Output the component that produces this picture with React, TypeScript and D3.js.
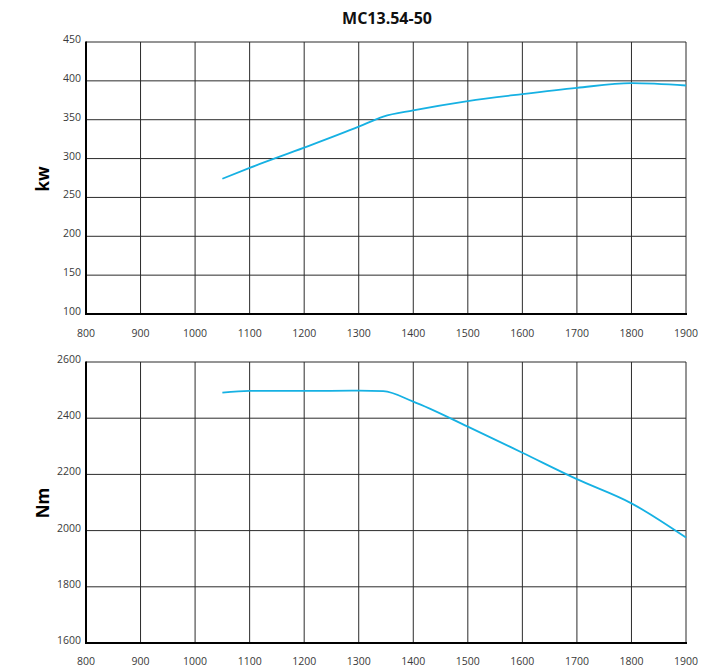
import React from "react";
import * as d3 from "d3";

const title = "MC13.54-50";
const rpmTicks = [800, 900, 1000, 1100, 1200, 1300, 1400, 1500, 1600, 1700, 1800, 1900];
const kwTicks = [100, 150, 200, 250, 300, 350, 400, 450];
const nmTicks = [1600, 1800, 2000, 2200, 2400, 2600];

const kwRpm = [1050, 1100, 1200, 1300, 1345, 1400, 1500, 1600, 1700, 1800, 1900];
const kwValues = [274, 288, 314, 341, 354, 362, 374, 383, 391, 397, 394];

const nmRpm = [1050, 1100, 1200, 1300, 1345, 1400, 1500, 1600, 1700, 1800, 1900];
const nmValues = [2491, 2497, 2497, 2498, 2496, 2459, 2370, 2277, 2183, 2097, 1975];

const LINE = "#16b1e3";
const GRID = "#2b2b2b";
const FONT = "'Open Sans', 'DejaVu Sans', sans-serif";

function Panel({ top, bottom, yDomain, yTicks, xs, ys, label, labelY, xLabelY }: any) {
  const x = d3.scaleLinear().domain([800, 1900]).range([86, 686]);
  const y = d3.scaleLinear().domain(yDomain).range([bottom, top]);
  const line = d3
    .line<number>()
    .x((_, i) => x(xs[i]))
    .y((v) => y(v))
    .curve(d3.curveMonotoneX);
  return (
    <g>
      {rpmTicks.map((t) => (
        <line key={"v" + t} x1={x(t)} x2={x(t)} y1={top} y2={bottom} stroke={GRID} strokeWidth={1} />
      ))}
      {yTicks.map((t: number) => (
        <line key={"h" + t} x1={86} x2={686} y1={y(t)} y2={y(t)} stroke={GRID} strokeWidth={1} />
      ))}
      <line x1={86} x2={86} y1={top - 0.5} y2={bottom + 1} stroke="#000" strokeWidth={2} />
      <line x1={85} x2={687} y1={bottom} y2={bottom} stroke="#000" strokeWidth={2} />
      {yTicks.map((t: number) => (
        <text key={"yl" + t} x={81} y={y(t) + 1} textAnchor="end" fontSize={10.5} fill="#3a3a3a" fontFamily={FONT}>
          {t}
        </text>
      ))}
      {rpmTicks.map((t) => (
        <text key={"xl" + t} x={x(t)} y={xLabelY} textAnchor="middle" fontSize={10.5} fill="#3a3a3a" fontFamily={FONT}>
          {t}
        </text>
      ))}
      <text x={-7} y={xLabelY} textAnchor="start" fontSize={10.5} fill="#3a3a3a" fontFamily={FONT}>
        0
      </text>
      <path d={line(ys) || ""} fill="none" stroke={LINE} strokeWidth={1.8} />
      <text
        transform={`translate(49,${labelY}) rotate(-90)`}
        textAnchor="middle"
        fontSize={17}
        fontWeight="bold"
        fill="#000"
        fontFamily={FONT}
      >
        {label}
      </text>
    </g>
  );
}

export default function App() {
  return (
    <svg width={725} height={668} style={{ position: "absolute", left: 0, top: 0, background: "#fff" }}>
      <rect width={725} height={668} fill="#fff" />
      <text x={387} y={24} textAnchor="middle" fontSize={16} fontWeight="bold" fill="#111" fontFamily={FONT}>
        {title}
      </text>
      <Panel
        top={42}
        bottom={314}
        yDomain={[100, 450]}
        yTicks={kwTicks}
        xs={kwRpm}
        ys={kwValues}
        label="kw"
        labelY={179}
        xLabelY={337}
      />
      <Panel
        top={362}
        bottom={643}
        yDomain={[1600, 2600]}
        yTicks={nmTicks}
        xs={nmRpm}
        ys={nmValues}
        label="Nm"
        labelY={503}
        xLabelY={665}
      />
    </svg>
  );
}
